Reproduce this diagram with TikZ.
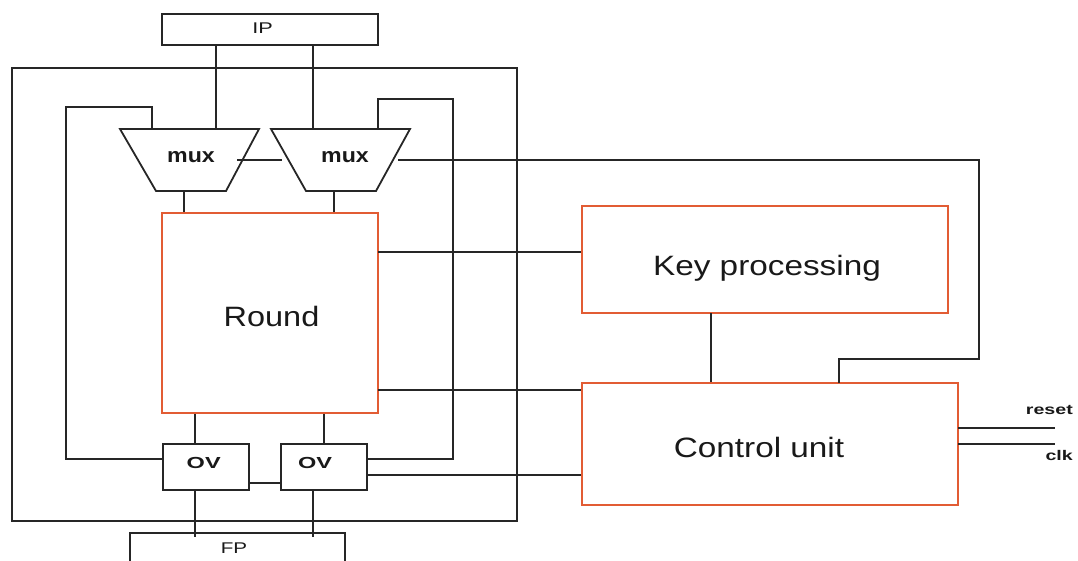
\documentclass[tikz,border=0pt]{standalone}
\usepackage{fontspec}
\setmainfont{Liberation Sans}
\usepackage{graphicx}
\definecolor{orng}{RGB}{226,92,52}
\definecolor{wirec}{RGB}{38,38,38}
\newcommand{\stx}[2]{\scalebox{#1}[1]{#2}}
\begin{document}
\begin{tikzpicture}[x=1pt,y=-1pt,
  wire/.style={draw=wirec,line width=1.8pt},
  blk/.style={draw=wirec,line width=1.8pt,rectangle,inner sep=0pt},
  org/.style={draw=orng,line width=1.8pt,rectangle,inner sep=0pt},
  lbl/.style={inner sep=0pt,anchor=base,text=black!90},
  big/.style={lbl,font=\fontsize{28}{32}\selectfont},
  muxt/.style={lbl,font=\fontsize{20.5}{24}\selectfont\bfseries},
  ovt/.style={lbl,font=\fontsize{16}{19}\selectfont\bfseries},
  smt/.style={lbl,font=\fontsize{15.5}{18}\selectfont},
  sig/.style={inner sep=0pt,anchor=base east,text=black!90,font=\fontsize{14}{17}\selectfont\bfseries}]
\useasboundingbox (0,0) rectangle (1078,561);
\clip (0,0) rectangle (1078,561);

% boxes
\node[blk,minimum width=216,minimum height=31] (IP) at (270,29.5) {};
\node[blk,minimum width=505,minimum height=453] (outer) at (264.5,294.5) {};
\node[org,minimum width=216,minimum height=200] (Round) at (270,313) {};
\node[org,minimum width=366,minimum height=107] (KP) at (765,259.5) {};
\node[org,minimum width=376,minimum height=122] (CU) at (770,444) {};
\node[blk,minimum width=86,minimum height=46] (OV1) at (206,467) {};
\node[blk,minimum width=86,minimum height=46] (OV2) at (324,467) {};
\node[blk,minimum width=215,minimum height=40] (FP) at (237.5,553) {};

% muxes
\coordinate (m1tl) at (120,129); \coordinate (m1tr) at (259,129);
\coordinate (m1br) at (226,191); \coordinate (m1bl) at (156,191);
\coordinate (m2tl) at (271,129); \coordinate (m2tr) at (410,129);
\coordinate (m2br) at (376,191); \coordinate (m2bl) at (306,191);
\draw[wire,line join=miter] (m1tl) -- (m1tr) -- (m1br) -- (m1bl) -- cycle;
\draw[wire,line join=miter] (m2tl) -- (m2tr) -- (m2br) -- (m2bl) -- cycle;

% texts
\node[smt] (IPt) at (262.5,33.3) {\stx{1.4}{IP}};
\node[muxt] (mux1) at (191,162.3) {\stx{1.13}{mux}};
\node[muxt] (mux2) at (345,162.3) {\stx{1.13}{mux}};
\node[big] (Roundt) at (271.5,326.7) {\stx{1.16}{Round}};
\node[big] (KPt) at (767,275.7) {\stx{1.19}{Key processing}};
\node[big] (CUt) at (759,457.3) {\stx{1.19}{Control unit}};
\node[ovt] (OV1t) at (203.7,468.3) {\stx{1.47}{OV}};
\node[ovt] (OV2t) at (315,468.3) {\stx{1.47}{OV}};
\node[smt] (FPt) at (234,553) {\stx{1.33}{FP}};
\node[sig] (resett) at (1073,414) {\stx{1.4}{reset}};
\node[sig] (clkt) at (1073,460.7) {\stx{1.4}{clk}};

% coordinates for connector ends
\coordinate (m1in) at (216,129);
\coordinate (m2in) at (313,129);
\coordinate (m1out) at (184,191);
\coordinate (m2out) at (334,191);
\coordinate (m1r) at (237,160);
\coordinate (m2l) at (282,160);
\coordinate (m2r) at (398,160);
\coordinate (selc) at (979,359);
\coordinate (cusel) at (839,383);
\coordinate (o1l) at (163,459);
\coordinate (lp1) at (66,107);
\coordinate (m1fb) at (152,129);
\coordinate (m2fb) at (378,129);
\coordinate (lp2) at (453,99);
\coordinate (o2r) at (367,459);
\coordinate (o1in) at (195,444);
\coordinate (o2in) at (324,444);
\coordinate (f1) at (195,537);
\coordinate (f2) at (313,537);
\coordinate (olk) at (249,483);
\coordinate (o2c) at (367,475);
\coordinate (rk) at (378,252);
\coordinate (rc) at (378,390);
\coordinate (kc) at (711,313);
\coordinate (rs) at (958,428);
\coordinate (rsend) at (1055,428);
\coordinate (ck) at (958,444);
\coordinate (ckend) at (1055,444);

% connectors
\draw[wire] (m1in |- IP.south) -- (m1in);
\draw[wire] (m2in |- IP.south) -- (m2in);
\draw[wire] (m1out) -- (m1out |- Round.north);
\draw[wire] (m2out) -- (m2out |- Round.north);
\draw[wire] (m1r) -- (m2l);
\draw[wire] (m2r) -| (selc) -| (cusel);
\draw[wire] (o1l) -| (lp1) -| (m1fb);
\draw[wire] (m2fb) |- (lp2) |- (o2r);
\draw[wire] (o1in |- Round.south) -- (o1in);
\draw[wire] (o2in |- Round.south) -- (o2in);
\draw[wire] (f1 |- OV1.south) -- (f1);
\draw[wire] (f2 |- OV2.south) -- (f2);
\draw[wire] (olk) -- (olk -| OV2.west);
\draw[wire] (o2c) -- (o2c -| CU.west);
\draw[wire] (rk) -- (rk -| KP.west);
\draw[wire] (rc) -- (rc -| CU.west);
\draw[wire] (kc) -- (kc |- CU.north);
\draw[wire] (rs) -- (rsend);
\draw[wire] (ck) -- (ckend);
\end{tikzpicture}
\end{document}
